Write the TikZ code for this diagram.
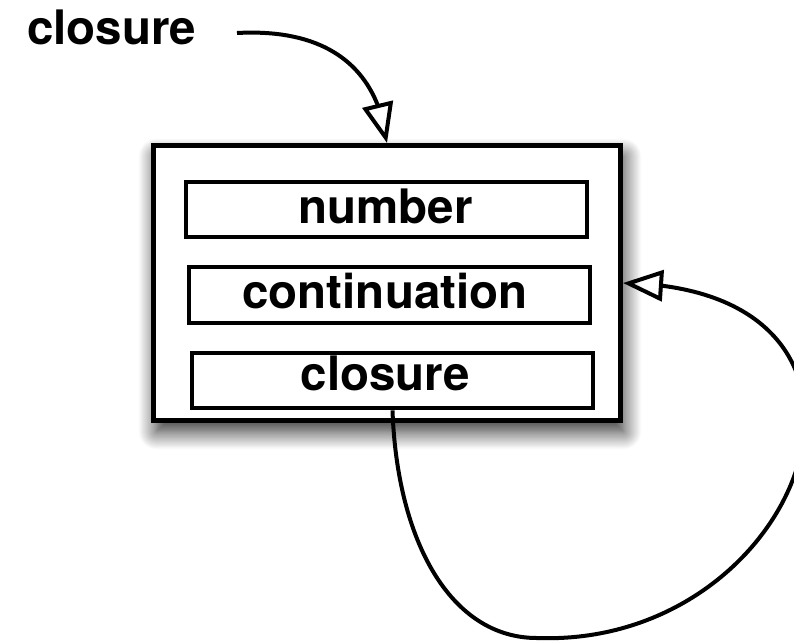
\documentclass[tikz,border=0pt]{standalone}
\usepackage{fontspec}
\setmainfont{TeX Gyre Heros}
\usetikzlibrary{arrows.meta,bending,shadows.blur}
\tikzset{
  frame/.style={draw, line width=5pt, fill=white, inner sep=0pt,
    minimum width=467pt, minimum height=275pt,
    blur shadow={shadow xshift=3pt, shadow yshift=-11pt,
      shadow blur radius=18pt, shadow blur steps=20, shadow opacity=85}},
  field/.style={draw, line width=4.2pt, inner sep=0pt,
    minimum width=400.8pt, minimum height=55.5pt},
  lbl/.style={inner sep=0pt, anchor=base,
    font=\fontsize{47.5}{57}\selectfont\bfseries},
  link/.style={line width=4pt,
    -{Triangle[open, length=40pt, width=31pt, line width=4pt]}},
}
\begin{document}
\begin{tikzpicture}[x=1pt, y=-1pt]
  \path[use as bounding box, clip] (0,0) rectangle (794,642);

  % record with three fields
  \node[frame] (outer) at (387,283) {};
  \node[field] (f1) at (386.5,209.5) {};
  \node[field] (f2) at (389.5,295) {};
  \node[field] (f3) at (392.5,380.5) {};
  \node[lbl] (t1) at (385.5,223) {number};
  \node[lbl] (t2) at (385,308) {continuation};
  \node[lbl] (t3) at (385.5,390) {closure};

  % external reference
  \node[lbl, anchor=base west] (ext) at (27,45) {closure};
  \coordinate (src) at (237,33);
  \draw[link] (src) .. controls (330,28) and (378,70) .. (outer.north);

  % self reference loop from the closure field
  \draw[link] (f3.south) .. controls (397,540) and (450,638) .. (537,638)
    .. controls (805,648) and (935,288) .. (outer.east);
\end{tikzpicture}
\end{document}
